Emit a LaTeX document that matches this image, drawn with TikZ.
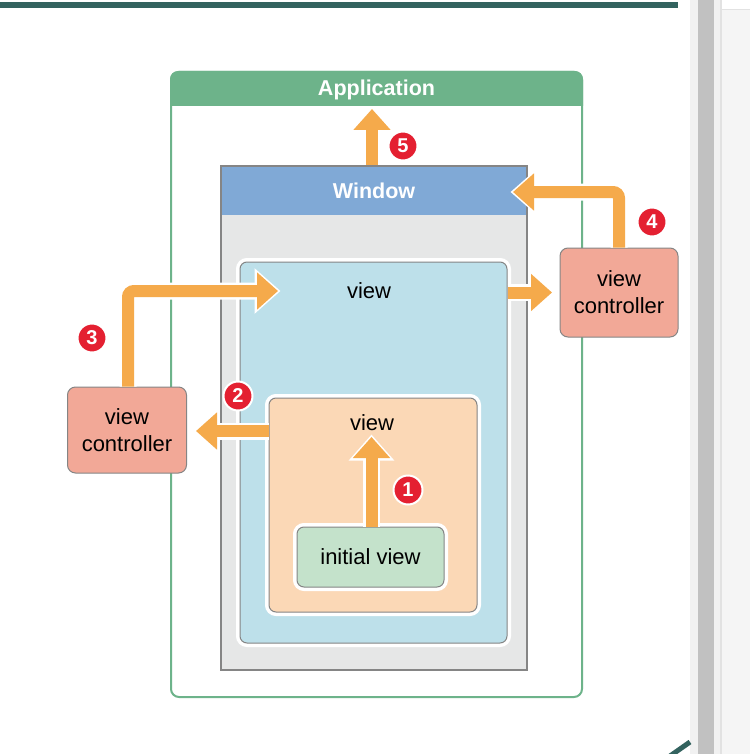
\documentclass[tikz,border=0pt]{standalone}
\usepackage{fontspec}
\setmainfont{Liberation Sans}
\usetikzlibrary{arrows.meta}
\definecolor{tealbar}{HTML}{33635F}
\definecolor{appgreen}{HTML}{6DB38A}
\definecolor{winblue}{HTML}{80A9D6}
\definecolor{wingrey}{HTML}{E6E7E7}
\definecolor{boxgrey}{HTML}{858585}
\definecolor{viewblue}{HTML}{BDE0EA}
\definecolor{viewpeach}{HTML}{FBD8B6}
\definecolor{initgreen}{HTML}{C4E2CB}
\definecolor{vcsalmon}{HTML}{F2A897}
\definecolor{arrorange}{HTML}{F5AA4B}
\definecolor{badgered}{HTML}{E42031}
\definecolor{sbl}{HTML}{F1F1F1}
\definecolor{sbd}{HTML}{C1C1C1}
\definecolor{sbp}{HTML}{F5F5F5}
\definecolor{sbline}{HTML}{E2E2E2}
\begin{document}
\begin{tikzpicture}[x=1pt,y=-1pt,
  txt/.style={font=\fontsize{22}{27}\selectfont, align=center, inner sep=0pt},
  ttl/.style={font=\bfseries\fontsize{21.5}{25}\selectfont, text=white, inner sep=0pt},
  viewbox/.style={rectangle, rounded corners=7pt, draw=boxgrey, line width=1pt,
     inner sep=0pt, preaction={draw=white, line width=8pt}},
  vcbox/.style={rectangle, rounded corners=8pt, draw=boxgrey, line width=1pt,
     fill=vcsalmon, inner sep=0pt, minimum width=119pt, font=\fontsize{22}{27}\selectfont, align=center},
  flow/.style={draw=arrorange, line width=12pt, rounded corners=6pt,
     -{Triangle[width=36pt,length=21pt]},
     preaction={draw=white, line width=17pt, shorten >=-2.5pt,
        arrows={-{Triangle[width=44pt,length=26pt]}}}},
  badge/.style={circle, fill=badgered, draw=white, line width=2pt, minimum size=29pt,
     inner sep=0pt, text=white, font=\bfseries\fontsize{20}{20}\selectfont}
]
\useasboundingbox (0,0) rectangle (750,754);
% page decorations
\fill[tealbar] (0,2) rectangle (678,8);
\fill[sbl] (690,0) rectangle (698,754);
\fill[sbd] (698,0) rectangle (714,754);
\fill[sbl] (714,0) rectangle (720,754);
\fill[sbline] (720,0) rectangle (722,754);
\fill[sbp] (722,10) rectangle (750,754);
\fill[sbline] (722,9) rectangle (750,10);
\draw[tealbar, line width=5pt] (670,756) -- (690,742);

% application
\node[draw=appgreen, line width=2pt, rounded corners=8pt, fill=white, inner sep=0pt,
      minimum width=411pt, minimum height=625pt] (app) at (376.5,384.5) {};
\begin{scope}
\clip (0,0) rectangle (750,106);
\fill[appgreen, rounded corners=8pt] (app.north west) rectangle (app.south east);
\end{scope}
\node[ttl] (apptitle) at (376.5,90) {Application};
\coordinate (apphead) at (376.5,106);

% view controllers
\node[vcbox, minimum height=86pt] (lvc) at (127,430) {view\\controller};
\node[vcbox, minimum height=89pt, minimum width=118pt] (rvc) at (619,292.5) {view\\controller};

% window
\node[draw=boxgrey, line width=2pt, fill=wingrey, inner sep=0pt,
      minimum width=306pt, minimum height=504pt] (win) at (374,418) {};
\fill[winblue] (222,167) rectangle (526,215);
\node[ttl] (wintitle) at (374,190.5) {Window};

% views
\node[viewbox, fill=viewblue, minimum width=267pt, minimum height=381pt] (bview) at (373.5,452.5) {};
\node[txt] (blabel) at (369,291) {view};
\node[viewbox, fill=viewpeach, minimum width=208pt, minimum height=214pt] (pview) at (373,505) {};
\node[txt] (plabel) at (372,423) {view};
\node[viewbox, fill=initgreen, minimum width=147pt, minimum height=60pt, font=\fontsize{22}{27}\selectfont] (iview) at (370.5,557) {initial view};

% arrow tips
\coordinate (t1) at (371.5,437);
\coordinate (t2) at (196,431);
\coordinate (t3) at (278,291);
\coordinate (t4) at (513,192);
\coordinate (t5) at (372,109);
\coordinate (t6) at (552,292.5);

% arrows
\draw[flow] (t1 |- iview.north) -- (t1);
\draw[flow] (t2 -| pview.west) -- (t2);
\draw[flow] ([xshift=1pt]lvc.north) |- (t3);
\draw[flow] (rvc.north) |- (t4);
\draw[flow] (t6 -| bview.east) -- (t6);
\draw[flow] (t5 |- win.north) -- (t5);

% badges
\node[badge] (b1) at (408,490) {1};
\node[badge] (b2) at (238,396) {2};
\node[badge] (b3) at (92,338) {3};
\node[badge] (b4) at (652,222) {4};
\node[badge] (b5) at (403,146) {5};
\end{tikzpicture}
\end{document}
